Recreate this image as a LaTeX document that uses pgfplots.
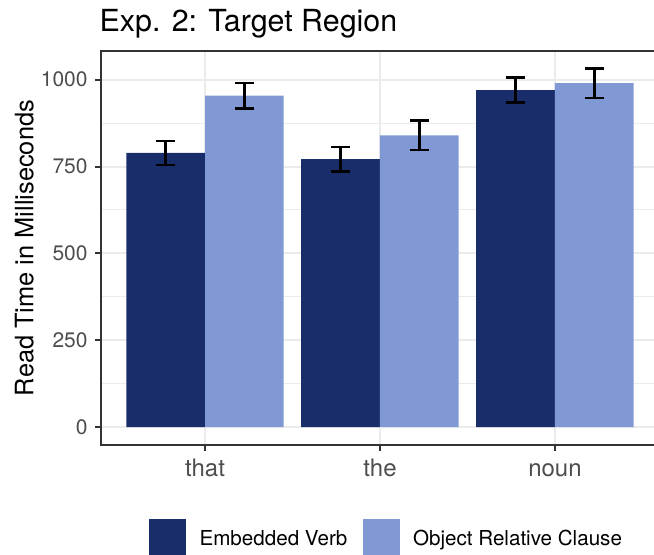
\documentclass[border=0pt]{standalone}
\usepackage{pgfplots}
\usepackage{pgfplotstable}
\pgfplotsset{compat=1.18}
\usepackage{fontspec}
\setmainfont{TeX Gyre Heros}

\definecolor{evblue}{RGB}{24,45,106}
\definecolor{orcblue}{RGB}{128,153,212}
\definecolor{gridgrey}{RGB}{235,235,235}
\definecolor{axisgrey}{RGB}{51,51,51}
\definecolor{tickgrey}{RGB}{77,77,77}

% mean read time and error per region; x is the dodged bar position
\pgfplotstableread{
x mean err
0.775 789 34
1.775 771 35
2.775 970 36
}\embverb
\pgfplotstableread{
x mean err
1.225 954 37
2.225 840 42
3.225 990 42
}\objrel

\pgfplotsset{
  sqlegend/.style={legend image code/.code={\fill[##1] (0pt,-9.25pt) rectangle (18.5pt,9.25pt);}},
  errstyle/.style={error bars/.cd, y dir=both, y explicit,
    error bar style={black, line width=1.2pt},
    error mark options={black, rotate=90, mark size=4.75pt, line width=1.2pt}},
}

\begin{document}
\begin{tikzpicture}
\path[use as bounding box] (-50.5pt,-54.5pt) rectangle (276.5pt,222.5pt);
\begin{scope}[overlay]
\begin{axis}[
  scale only axis, width=279pt, height=197pt,
  xmin=0.4057, xmax=3.5943, ymin=-51.5, ymax=1082.5,
  xtick={1,2,3}, xticklabels={that,the,noun},
  ytick={0,250,500,750,1000}, minor ytick={125,375,625,875},
  grid=both,
  major grid style={gridgrey, line width=1pt},
  minor grid style={gridgrey, line width=0.5pt},
  axis line style={axisgrey, line width=1pt},
  tick align=outside, tick pos=left,
  major tick length=3pt, minor tick length=0pt,
  tick style={axisgrey, line width=1pt},
  /pgf/number format/assume math mode=true,
  /pgf/number format/1000 sep={},
  yticklabel style={font=\fontsize{10.5pt}{12pt}\selectfont, text=tickgrey, anchor=east, inner sep=0pt, xshift=-3.5pt},
  xticklabel style={font=\fontsize{12pt}{14pt}\selectfont, text=tickgrey, anchor=base, inner sep=0pt, yshift=-12.5pt},
  ylabel={Read Time in Milliseconds},
  ylabel style={at={(axis description cs:-0.1213,0.5)}, anchor=base, font=\fontsize{12.7pt}{15pt}\selectfont},
  legend columns=2,
  legend style={at={(0.08602,-0.2360)}, anchor=west, draw=none, fill=none,
    inner sep=0pt, outer sep=0pt,
    font=\fontsize{10.3pt}{12pt}\selectfont,
    cells={anchor=west},
    nodes={inner sep=0pt, text depth=0pt},
    /tikz/every odd column/.append style={column sep=6.8pt},
    /tikz/every even column/.append style={column sep=7.6pt}},
]
\addplot[ybar, bar width=0.45, bar shift=0pt, fill=evblue, draw=none, mark=none, sqlegend, errstyle]
  table[x=x, y=mean, y error=err] {\embverb};
\addlegendentry{Embedded Verb}
\addplot[ybar, bar width=0.45, bar shift=0pt, fill=orcblue, draw=none, mark=none, sqlegend, errstyle]
  table[x=x, y=mean, y error=err] {\objrel};
\addlegendentry{Object Relative Clause}
\end{axis}
\node[anchor=base west, inner sep=0pt, font=\fontsize{15.2pt}{18pt}\selectfont] at (-0.85pt,206.6pt) {Exp. 2: Target Region};
\end{scope}
\end{tikzpicture}
\end{document}
